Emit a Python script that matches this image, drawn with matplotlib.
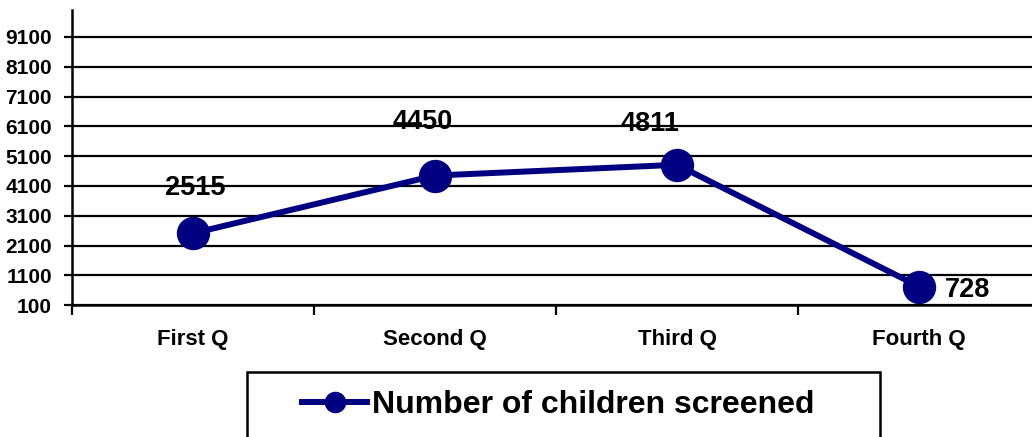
import matplotlib
matplotlib.use("Agg")
import matplotlib.pyplot as plt
from matplotlib.lines import Line2D
from matplotlib.patches import Rectangle

# Quarterly screening counts
quarters = ["First Q", "Second Q", "Third Q", "Fourth Q"]
screened = [2515, 4450, 4811, 728]
series_name = "Number of children screened"
y_ticks = [100, 1100, 2100, 3100, 4100, 5100, 6100, 7100, 8100, 9100]

# per-label placement (pixels relative to the marker) and alignment
label_offsets = [(2, 38), (-12, 47), (-27, 34), (26, -10)]
label_align = ["center", "center", "center", "left"]

NAVY = "#000080"
W, H = 1032, 437
plt.rcParams["font.family"] = ["Liberation Sans", "DejaVu Sans"]
plt.rcParams["font.weight"] = "bold"

fig = plt.figure(figsize=(W / 100, H / 100), dpi=100)
# plot area in pixel terms: left 72, right 1040 (runs past the edge), top 10, bottom 305
left, right, top, bottom = 72, 1040, 10, 305.3
ax = fig.add_axes([left / W, (H - bottom) / H, (right - left) / W, (bottom - top) / H])

x = list(range(len(quarters)))
ax.plot(x, screened, color=NAVY, lw=4.3, marker="o", ms=23,
        markerfacecolor=NAVY, markeredgecolor=NAVY, zorder=5, clip_on=False)

for xi, v, (dx, dy), ha in zip(x, screened, label_offsets, label_align):
    ax.annotate(f"{v}", (xi, v), xytext=(dx, dy), textcoords="offset pixels",
                ha=ha, va="baseline", fontsize=19.5, fontweight="bold",
                color="black", zorder=6)

ax.set_xlim(-0.5, len(quarters) - 0.5)
ax.set_ylim(100, 10000)

ax.set_yticks(y_ticks)
ax.set_yticklabels([str(t) for t in y_ticks], fontsize=15, fontweight="bold")
ax.yaxis.grid(True, color="black", lw=1.6)
ax.set_axisbelow(True)

ax.set_xticks(x)
ax.set_xticklabels(quarters, fontsize=16, fontweight="bold")
ax.set_xticks([i - 0.5 for i in range(len(quarters))], minor=True)
ax.tick_params(axis="x", which="major", length=0, pad=17)
ax.tick_params(axis="x", which="minor", length=7, width=1.6, direction="out")
ax.tick_params(axis="y", length=6, width=1.6, direction="out", pad=8.5)

for s in ["top", "right"]:
    ax.spines[s].set_visible(False)
for s in ["left", "bottom"]:
    ax.spines[s].set_linewidth(1.8)
    ax.spines[s].set_color("black")

# legend box (open at the bottom edge of the figure)
fig.patches.append(Rectangle((247 / W, -0.1), (880 - 247) / W, 0.1 + (H - 372) / H,
                             transform=fig.transFigure, fill=False,
                             edgecolor="black", lw=1.8, clip_on=False))
handle = Line2D([], [], color=NAVY, lw=4.3, marker="o", ms=14.5,
                markerfacecolor=NAVY, markeredgecolor=NAVY)
fig.legend([handle], [series_name], loc="center left",
           bbox_to_anchor=(302 / W, (H - 405) / H), frameon=False,
           borderpad=0, borderaxespad=0, handlelength=2.05, handletextpad=0.15,
           prop={"size": 23, "weight": "bold"})

fig.savefig("out.png", dpi=100)
